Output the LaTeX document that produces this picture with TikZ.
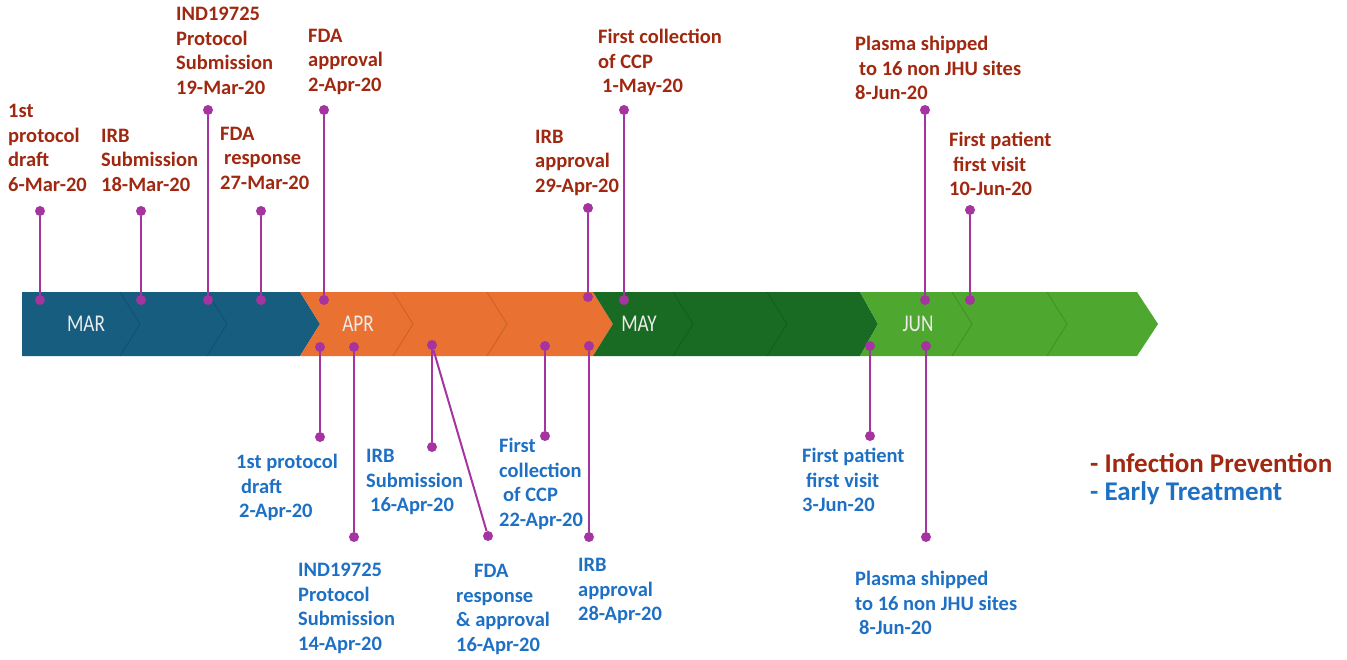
\documentclass[tikz,border=0pt]{standalone}
\usepackage{fontspec}
\setmainfont{Carlito}
\newfontfamily\monthfont{Carlito}[FakeStretch=0.8]
\usetikzlibrary{positioning}

\definecolor{barblue}{RGB}{22,93,127}
\definecolor{barorange}{RGB}{233,113,50}
\definecolor{bardkgreen}{RGB}{25,107,36}
\definecolor{barltgreen}{RGB}{78,167,46}
\definecolor{pinmag}{RGB}{165,52,160}
\definecolor{redtxt}{RGB}{160,40,16}
\definecolor{bluetxt}{RGB}{30,112,196}
\definecolor{monthtxt}{RGB}{236,236,236}

\tikzset{
  dot/.style={circle,fill=pinmag,inner sep=0pt,minimum size=10pt},
  stem/.style={draw=pinmag,line width=2pt},
  lab/.style={anchor=north west,inner sep=0pt,align=left,yshift=-3pt,
              font=\fontsize{20.5pt}{24.5pt}\selectfont\bfseries},
  toplab/.style={lab,text=redtxt},
  botlab/.style={lab,text=bluetxt},
  month/.style={text=monthtxt,font=\monthfont\fontsize{24pt}{24pt}\selectfont},
  cut/.style={draw=black,draw opacity=0.12,line width=1pt},
  legend/.style={anchor=west,inner sep=0pt,font=\fontsize{27pt}{29pt}\selectfont\bfseries}
}

\begin{document}
\begin{tikzpicture}[x=1pt,y=-1pt]
  \useasboundingbox (0,0) rectangle (1347,659);

  % month band
  \fill[barblue] (22,292) -- (300,292) -- (320,324) -- (300,356) -- (22,356) -- cycle;
  \fill[barorange] (300,292) -- (593,292) -- (613,324) -- (593,356) -- (300,356) -- (320,324) -- cycle;
  \fill[bardkgreen] (593,292) -- (860,292) -- (878,324) -- (860,356) -- (593,356) -- (613,324) -- cycle;
  \fill[barltgreen] (860,292) -- (1137,292) -- (1158,324) -- (1137,356) -- (860,356) -- (878,324) -- cycle;
  \foreach \x in {120,207,393,487,673,767,952,1047}
    \draw[cut] (\x,292) -- (\x+20,324) -- (\x,356);

  \node[month] (mar) at (86,324)  {MAR};
  \node[month] (apr) at (358,324) {APR};
  \node[month] (may) at (639,324) {MAY};
  \node[month] (jun) at (918,324) {JUN};

  % infection prevention (above)
  \foreach \n/\x/\ya/\yb in {a/40/211/300, b/141/211/300, c/208/110/300,
      d/261/211/300, e/324/110/300, f/588/208/297, g/624/110/300,
      h/925/110/300, i/970/210/300}{
    \node[dot] (\n1) at (\x,\ya) {};
    \node[dot] (\n2) at (\x,\yb) {};
    \draw[stem] (\n1) -- (\n2);
  }

  \node[toplab] (draftA) at (8,101)   {1st\\protocol\\draft\\6-Mar-20};
  \node[toplab] (irbA)   at (101,126) {IRB\\Submission\\18-Mar-20};
  \node[toplab] (indA)   at (176,4)   {IND19725\\Protocol\\Submission\\19-Mar-20};
  \node[toplab] (respA)  at (220,124) {FDA\\\hspace*{4pt}response\\27-Mar-20};
  \node[toplab] (fdaA)   at (308,26)  {FDA\\approval\\2-Apr-20};
  \node[toplab] (apprA)  at (535,127) {IRB\\approval\\29-Apr-20};
  \node[toplab] (ccpA)   at (598,26)  {First collection\\of CCP\\\hspace*{4pt}1-May-20};
  \node[toplab] (shipA)  at (855,33)  {Plasma shipped\\\hspace*{4pt}to 16 non JHU sites\\8-Jun-20};
  \node[toplab] (visitA) at (949,129) {First patient\\\hspace*{4pt}first visit\\10-Jun-20};

  % early treatment (below)
  \foreach \n/\x/\ya/\yb in {k/320/347/437, l/354/347/537, n/545/346/436,
      o/589/346/537, q/870/346/436, r/926/346/537}{
    \node[dot] (\n1) at (\x,\ya) {};
    \node[dot] (\n2) at (\x,\yb) {};
    \draw[stem] (\n1) -- (\n2);
  }
  \node[dot] (m1) at (432,345) {};
  \node[dot] (m2) at (432,447) {};
  \node[dot] (p2) at (488,536) {};
  \draw[stem] (m1) -- (m2);
  \draw[stem] (m1) -- (p2);

  \node[botlab] (draftB) at (236,451) {1st protocol\\\hspace*{5pt}draft\\\hspace*{3pt}2-Apr-20};
  \node[botlab] (indB)   at (298,560) {IND19725\\Protocol\\Submission\\14-Apr-20};
  \node[botlab] (irbB)   at (366,446) {IRB\\Submission\\\hspace*{4pt}16-Apr-20};
  \node[botlab] (fdaB)   at (456,561) {\hspace*{18pt}FDA\\response\\\& approval\\16-Apr-20};
  \node[botlab] (ccpB)   at (499,435) {First\\collection\\\hspace*{4pt}of CCP\\22-Apr-20};
  \node[botlab] (apprB)  at (578,555) {IRB\\approval\\28-Apr-20};
  \node[botlab] (visitB) at (802,445) {First patient\\\hspace*{4pt}first visit\\3-Jun-20};
  \node[botlab] (shipB)  at (855,568) {Plasma shipped\\to 16 non JHU sites\\\hspace*{4pt}8-Jun-20};

  % legend
  \node[legend,text=redtxt] (prev) at (1090,463) {- Infection Prevention};
  \node[legend,text=bluetxt,below=9pt of prev.south west,anchor=north west] (treat) {- Early Treatment};
\end{tikzpicture}
\end{document}
